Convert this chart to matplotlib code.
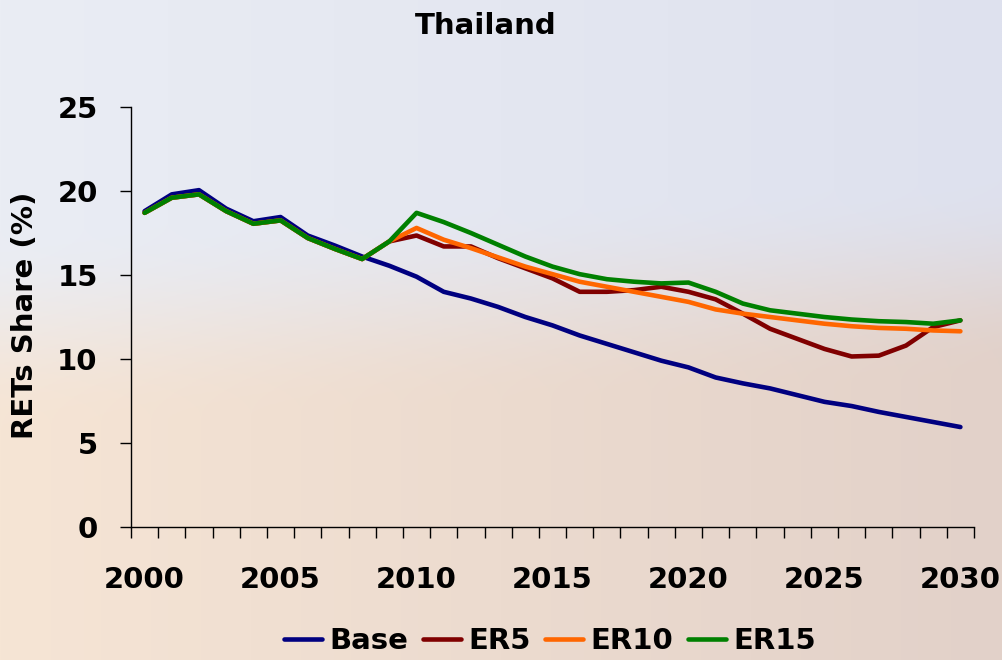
import numpy as np
import matplotlib
matplotlib.use("Agg")
import matplotlib.pyplot as plt
from matplotlib.ticker import FixedLocator

plt.rcParams['font.family'] = ['DejaVu Sans']
plt.rcParams['font.weight'] = 'bold'

years = np.arange(2000, 2031)

# RETs share (%) per scenario
base = [18.8, 19.8, 20.05, 18.95, 18.2, 18.45, 17.35, 16.75, 16.1, 15.55,
        14.9, 14.0, 13.6, 13.1, 12.5, 12.0, 11.4, 10.9, 10.4, 9.9,
        9.5, 8.9, 8.55, 8.25, 7.85, 7.45, 7.2, 6.85, 6.55, 6.25, 5.95]
hist = [18.7, 19.6, 19.8, 18.8, 18.05, 18.25, 17.2, 16.55, 15.95, 17.0]
er5 = hist + [17.35, 16.7, 16.7, 16.0, 15.4, 14.8, 14.0, 14.0, 14.1, 14.3,
              14.0, 13.55, 12.7, 11.8, 11.2, 10.6, 10.15, 10.2, 10.8, 11.9, 12.3]
er10 = hist + [17.8, 17.1, 16.6, 16.05, 15.5, 15.05, 14.6, 14.3, 14.0, 13.7,
               13.4, 12.95, 12.7, 12.5, 12.3, 12.1, 11.95, 11.85, 11.8, 11.7, 11.65]
er15 = hist + [18.7, 18.15, 17.5, 16.8, 16.1, 15.5, 15.05, 14.75, 14.6, 14.5,
               14.55, 14.0, 13.3, 12.9, 12.7, 12.5, 12.35, 12.25, 12.2, 12.1, 12.3]

series = [("Base", base, "#000080"), ("ER5", er5, "#800000"),
          ("ER10", er10, "#ff6600"), ("ER15", er15, "#008000")]

fig = plt.figure(figsize=(10.02, 6.6), dpi=100)

# soft blue-to-peach background
H, W = 330, 501
v = np.linspace(0, 1, H)[:, None]
u = np.linspace(0, 1, W)[None, :]
top = (1 - u)[..., None] * np.array([234, 237, 244]) + u[..., None] * np.array([222, 225, 238])
bot = (1 - u)[..., None] * np.array([246, 229, 213]) + u[..., None] * np.array([226, 209, 201])
t = np.clip((v - 0.5 + 0.08 * u) / 0.3 + 0.5, 0, 1)
t = (t * t * (3 - 2 * t))[..., None]
grad = ((1 - t) * top + t * bot) / 255.0
bg = fig.add_axes([0, 0, 1, 1], zorder=-1)
bg.imshow(grad, aspect='auto', extent=[0, 1, 0, 1])
bg.axis('off')

ax = fig.add_axes([131 / 1002, 133 / 660, 843 / 1002, 420 / 660])
ax.set_facecolor('none')

for name, vals, col in series:
    ax.plot(years, vals, color=col, lw=3.3, label=name, solid_capstyle='round')

ax.set_xlim(1999.5, 2030.5)
ax.set_ylim(0, 25)
ax.set_yticks(range(0, 26, 5))
ax.set_xticks(range(2000, 2031, 5))
ax.xaxis.set_minor_locator(FixedLocator(np.arange(1999.5, 2031, 1)))
ax.tick_params(axis='x', which='major', length=0, pad=28, labelsize=21)
ax.tick_params(axis='x', which='minor', length=8, width=1, direction='out')
ax.tick_params(axis='y', length=8, width=1, direction='out', pad=16, labelsize=21)
for lab in ax.get_xticklabels() + ax.get_yticklabels():
    lab.set_fontweight('bold')

for s in ['top', 'right']:
    ax.spines[s].set_visible(False)
for s in ['left', 'bottom']:
    ax.spines[s].set_linewidth(1)

fig.text(486 / 1002, 1 - 26 / 660, "Thailand", ha='center', va='center',
         fontsize=21, fontweight='bold')
fig.text(25 / 1002, 1 - 315 / 660, "RETs Share (%)", rotation=90, ha='center',
         va='center', fontsize=21, fontweight='bold')

fig.legend(loc='center', bbox_to_anchor=(550 / 1002, 1 - 641 / 660), ncol=4,
           frameon=False, handlelength=1.3, handletextpad=0.25,
           columnspacing=0.5, borderpad=0.1, prop={'weight': 'bold', 'size': 21})

fig.savefig("out.png", dpi=100)
